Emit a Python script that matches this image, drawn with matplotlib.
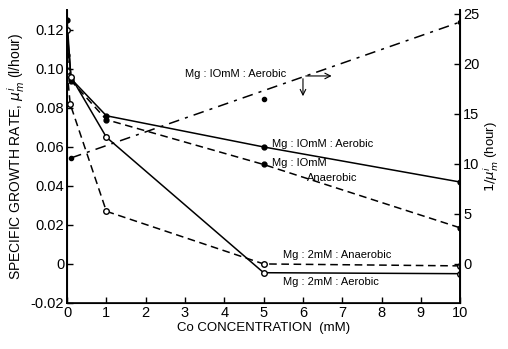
import matplotlib
matplotlib.use("Agg")
import matplotlib.pyplot as plt

plt.rcParams['font.family'] = ['Liberation Sans', 'DejaVu Sans']

# growth rate curves (left axis)
x_10_aer = [0, 0.1, 1, 5, 10]
y_10_aer = [0.125, 0.095, 0.076, 0.060, 0.042]
x_10_ana = [0, 0.1, 1, 5, 10]
y_10_ana = [0.107, 0.094, 0.074, 0.051, 0.0185]
x_2_aer = [0, 0.1, 1, 5, 10]
y_2_aer = [0.120, 0.096, 0.065, -0.0045, -0.005]
x_2_ana = [0, 0.08, 1, 5, 10]
y_2_ana = [0.099, 0.082, 0.027, 0.0, -0.001]

# 1/mu (right axis)
x_inv_line = [0.1, 10]
y_inv_line = [10.6, 24.2]
x_inv_pts = [0.1, 5, 10]
y_inv_pts = [10.6, 16.5, 24.2]

xticks = list(range(0, 11))
yticks_left = [-0.02, 0, 0.02, 0.04, 0.06, 0.08, 0.10, 0.12]
ylabels_left = ['-0.02', '0', '0.02', '0.04', '0.06', '0.08', '0.10', '0.12']
yticks_right = [0, 5, 10, 15, 20, 25]

fig = plt.figure(figsize=(5.08, 3.49), dpi=100)
ax = fig.add_axes([0.132, 0.132, 0.774, 0.838])
ax2 = ax.twinx()

ax.plot(x_10_aer, y_10_aer, '-', color='black', lw=1.1, marker='o', ms=3.5)
ax.plot(x_10_ana, y_10_ana, '--', color='black', lw=1.1, marker='o', ms=3.5, dashes=(5, 3))
ax.plot(x_2_aer, y_2_aer, '-', color='black', lw=1.1, marker='o', ms=4, mfc='white')
ax.plot(x_2_ana, y_2_ana, '--', color='black', lw=1.1, marker='o', ms=4, mfc='white', dashes=(5, 3))

ax2.plot(x_inv_line, y_inv_line, '-.', color='black', lw=1.1, dashes=(7, 4, 2, 4))
ax2.plot(x_inv_pts, y_inv_pts, 'o', color='black', ms=3)

ax.set_xlim(0, 10)
ax.set_ylim(-0.02, 0.13)
ax2.set_ylim(-3.9, 25.35)

ax.set_xticks(xticks)
ax.set_yticks(yticks_left)
ax.set_yticklabels(ylabels_left)
ax2.set_yticks(yticks_right)

for a in (ax, ax2):
    a.spines['top'].set_visible(False)
    a.tick_params(direction='in', length=4, width=1, labelsize=10.5, pad=2)
ax.spines['left'].set_linewidth(1.4)
ax.spines['bottom'].set_linewidth(1.2)
ax2.spines['right'].set_linewidth(1.4)

ax.set_xlabel('Co CONCENTRATION  (mM)', fontsize=9.5, labelpad=1.5)
ax.set_ylabel(r'SPECIFIC GROWTH RATE, $\mu_m^i$ (l/hour)', fontsize=10, labelpad=3)
ax2.set_ylabel(r'$1/\mu_m^i$ (hour)', fontsize=9.5)
ax2.yaxis.set_label_coords(1.055, 0.5)

fs = 8
ax2.text(3.0, 19.0, 'Mg : IOmM : Aerobic', fontsize=fs, ha='left', va='center')
ax2.annotate('', xy=(6.8, 18.8), xytext=(6.0, 18.8),
             arrowprops=dict(arrowstyle='->', lw=0.8, color='black'))
ax2.annotate('', xy=(6.0, 16.5), xytext=(6.0, 18.8),
             arrowprops=dict(arrowstyle='->', lw=0.8, color='black'))
ax.text(5.2, 0.0615, 'Mg : IOmM : Aerobic', fontsize=fs, ha='left', va='center')
ax.text(5.2, 0.052, 'Mg : IOmM', fontsize=fs, ha='left', va='center')
ax.text(6.1, 0.044, 'Anaerobic', fontsize=fs, ha='left', va='center')
ax.text(5.5, 0.0045, 'Mg : 2mM : Anaerobic', fontsize=fs, ha='left', va='center')
ax.text(5.5, -0.0095, 'Mg : 2mM : Aerobic', fontsize=fs, ha='left', va='center')

fig.savefig('out.png', dpi=100)
